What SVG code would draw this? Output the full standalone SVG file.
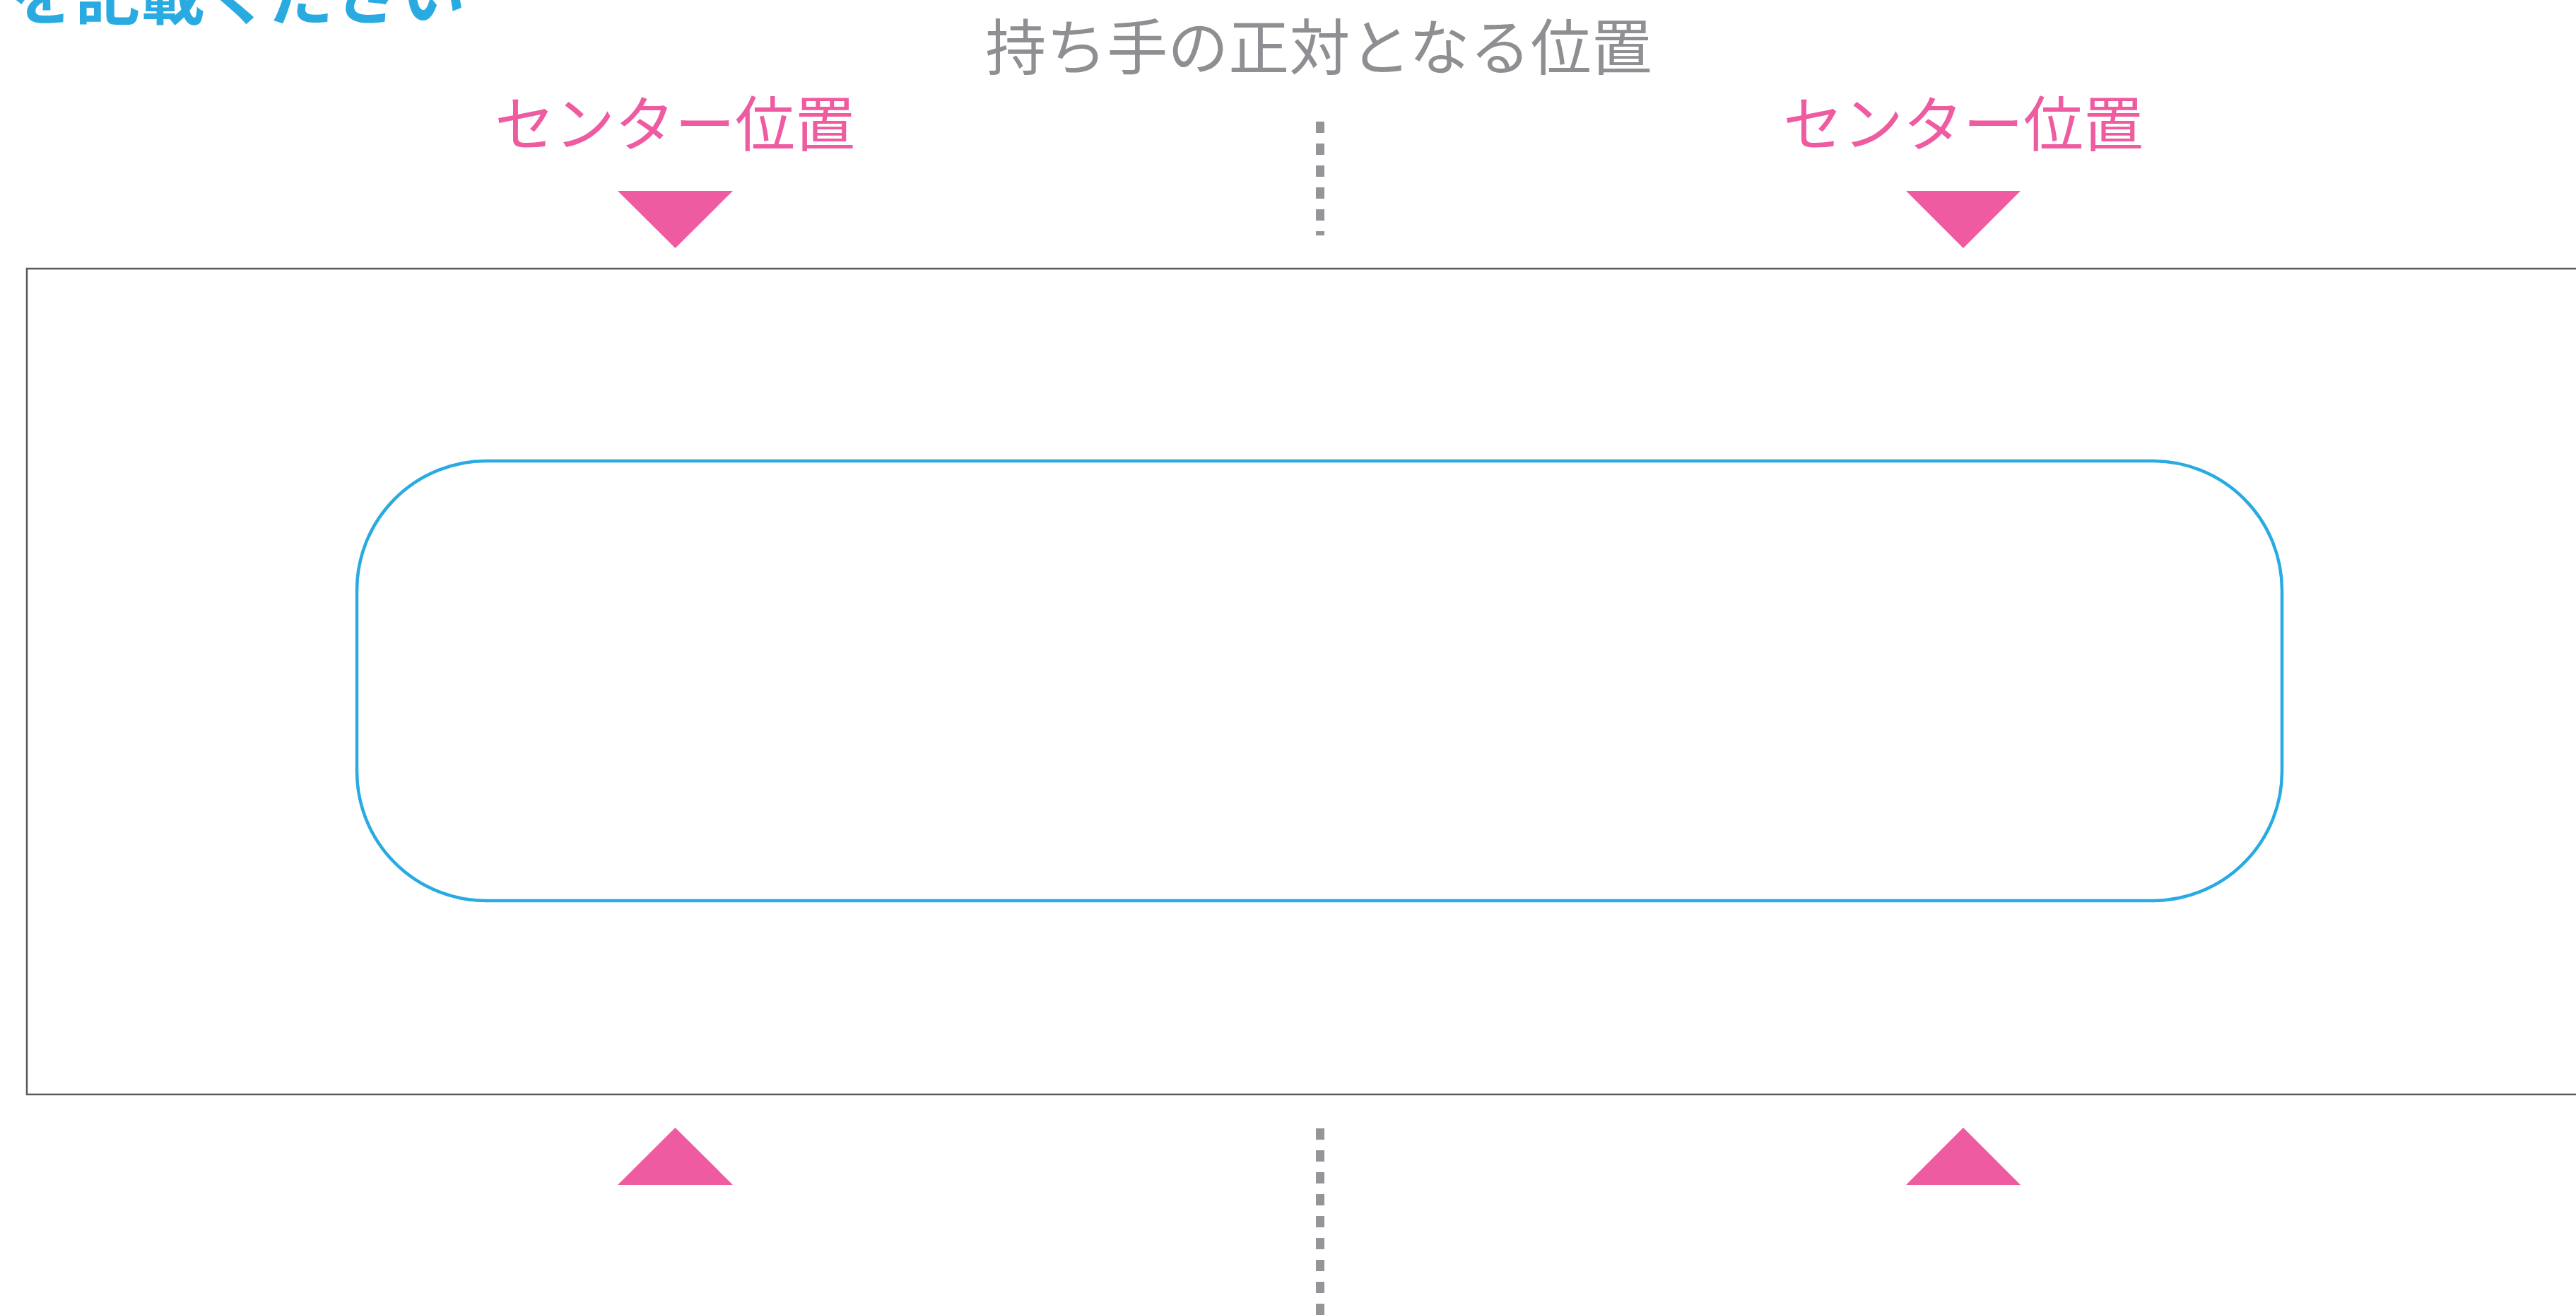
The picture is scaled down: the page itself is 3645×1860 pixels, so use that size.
<svg xmlns="http://www.w3.org/2000/svg" width="3645" height="1860" viewBox="0 0 3645 1860">
  <style>
    .jp { font-family: "Noto Sans CJK JP", "Noto Sans", sans-serif; }
    .title { font-size: 92px; font-weight: bold; fill: #29abe2; }
    .gray { font-size: 86px; fill: #8e8f92; }
    .pink { font-size: 85px; fill: #ef5ba1; }
    .tri { fill: #ef5ba1; }
    .dots { stroke: #939598; stroke-width: 12; stroke-dasharray: 16 15; fill: none; }
  </style>
  <rect width="3645" height="1860" fill="#ffffff"/>
  <text class="jp title" x="14" y="27">を記載ください</text>
  <g id="frame">
    <rect x="38" y="380" width="3640" height="1168" fill="none" stroke="#5a5a5a" stroke-width="2.5"/>
  </g>
  <g id="handle">
    <rect x="505" y="652" width="2724" height="622" rx="183" ry="183" fill="none" stroke="#29abe2" stroke-width="4.5"/>
  </g>
  <g id="label-facing">
    <text class="jp gray" x="1866" y="99" text-anchor="middle">持ち手の正対となる位置</text>
  </g>
  <g id="label-center-left">
    <text class="jp pink" x="955" y="207" text-anchor="middle">センター位置</text>
    <polygon class="tri" points="874,270 1037,270 955.5,351"/>
  </g>
  <g id="label-center-right">
    <text class="jp pink" x="2778" y="207" text-anchor="middle">センター位置</text>
    <polygon class="tri" points="2697,270 2859,270 2778,351"/>
  </g>
  <g id="marker-bottom-left">
    <polygon class="tri" points="874,1676 1037,1676 955.5,1595"/>
  </g>
  <g id="marker-bottom-right">
    <polygon class="tri" points="2697,1676 2859,1676 2778,1595"/>
  </g>
  <g id="connectors">
    <line class="dots" x1="1868" y1="172" x2="1868" y2="333"/>
    <line class="dots" x1="1868" y1="1596" x2="1868" y2="1860"/>
  </g>
</svg>
